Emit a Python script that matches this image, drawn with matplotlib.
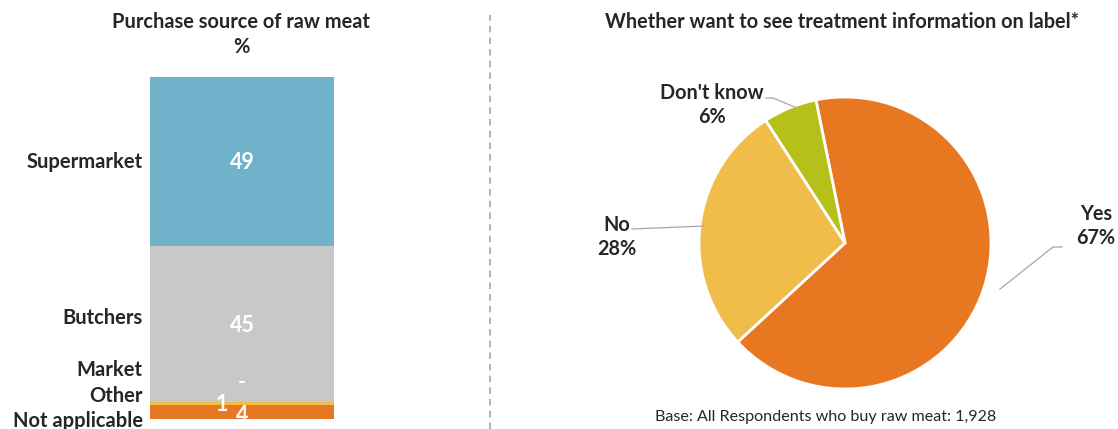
import matplotlib
matplotlib.use("Agg")
import matplotlib.pyplot as plt
import numpy as np

plt.rcParams['font.family'] = ['Lato', 'DejaVu Sans']

# ---- data ----
bar_categories = ["Supermarket", "Butchers", "Market", "Other", "Not applicable"]
bar_values = [49, 45, 0, 1, 4]
bar_value_labels = ["49", "45", "-", "1", "4"]
bar_colors = ["#70B2C9", "#C8C8C6", "#C8C8C6", "#F0BD4B", "#E87722"]

pie_labels = ["Yes", "No", "Don't know"]
pie_values = [67, 28, 6]
pie_colors = ["#E87722", "#F0BD4B", "#B5C118"]

W, H = 1118, 429
fig = plt.figure(figsize=(W / 100, H / 100), dpi=100)

def px_axes(x0, y0, x1, y1):
    return fig.add_axes([x0 / W, 1 - y1 / H, (x1 - x0) / W, (y1 - y0) / H])

# ---- left: stacked bar ----
ax1 = px_axes(150, 77, 334, 419)
total = sum(bar_values)
bottom = 0
centers = []
for v, c in zip(bar_values, bar_colors):
    ax1.bar(0, v, bottom=bottom, width=1.0, color=c, edgecolor='none')
    centers.append(bottom + v / 2)
    bottom += v
ax1.set_xlim(-0.5, 0.5)
ax1.set_ylim(total, 0)
ax1.axis('off')

# label offsets (px) relative to segment centers
cat_dy = [0, -6, -32, -7, 9]
val_dx = [0, 0, 0, -20, 0]
val_dy = [1, 1, -19, 1.5, 3]
px_per = 342 / total
for i, (cat, lab) in enumerate(zip(bar_categories, bar_value_labels)):
    yc = centers[i]
    ax1.text(-0.54, yc + cat_dy[i] / px_per, cat, ha='right', va='center',
             fontsize=14.5, fontweight='bold', color='#262626', clip_on=False)
    ax1.text(0 + val_dx[i] / 184, yc + val_dy[i] / px_per, lab, ha='center', va='center',
             fontsize=15.5, fontweight='bold', color='white', clip_on=False)

fig.text(241 / W, 1 - 22 / H, "Purchase source of raw meat", ha='center', va='center',
         fontsize=14.4, fontweight='bold', color='#262626')
fig.text(241 / W, 1 - 47 / H, "%", ha='center', va='center',
         fontsize=14.4, fontweight='bold', color='#262626')

# dashed separator
fig.add_artist(plt.Line2D([490 / W, 490 / W], [0, 1 - 15 / H], color='#A6A6A6',
                          linestyle=(0, (4, 3)), linewidth=1.2))

# ---- right: pie ----
cx, cy, r = 845, 243, 146
ax2 = px_axes(cx - r, cy - r, cx + r, cy + r)
wedges, _ = ax2.pie(pie_values, colors=pie_colors, startangle=101.5, counterclock=False,
                    wedgeprops=dict(edgecolor='white', linewidth=2), radius=1.0)
ax2.set_xlim(-1, 1)
ax2.set_ylim(-1, 1)
ax2.set_aspect('auto')
ax2.axis('off')

def p2d(x, y):
    return ((x - cx) / r, -(y - cy) / r)

pie_text = [f"{l}\n{v}%" for l, v in zip(pie_labels, pie_values)]
label_pos = [(1096, 226), (617, 237), (712, 105)]
leaders = [[(1000, 289), (1053, 247), (1062, 247)],
           [(632, 229), (704, 226)],
           [(766, 98), (773, 98), (797, 108)]]
for txt, pos, ld in zip(pie_text, label_pos, leaders):
    x, y = p2d(*pos)
    ax2.text(x, y, txt, ha='center', va='center', fontsize=14.3, fontweight='bold',
             color='#262626', linespacing=1.22, clip_on=False)
    pts = [p2d(*p) for p in ld]
    ax2.plot([p[0] for p in pts], [p[1] for p in pts], color='#A6A6A6', lw=0.9, clip_on=False)

fig.text(842 / W, 1 - 22 / H, "Whether want to see treatment information on label*",
         ha='center', va='center', fontsize=14.3, fontweight='bold', color='#262626')
fig.text(826 / W, 1 - 417 / H, "Base: All Respondents who buy raw meat: 1,928",
         ha='center', va='center', fontsize=11.6, color='#262626')

fig.savefig("out.png", dpi=100)
